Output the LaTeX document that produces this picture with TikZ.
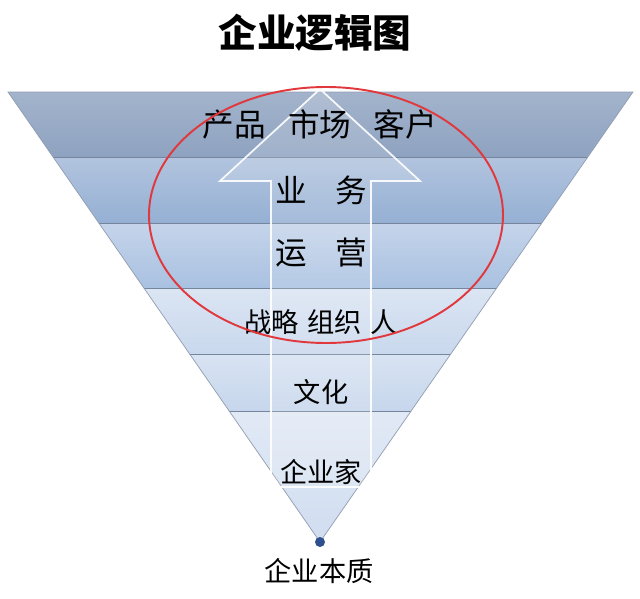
\documentclass[tikz,border=0pt]{standalone}
\usepackage{fontspec}
\setmainfont{Noto Sans CJK SC}
\usepackage{xcolor}
\usepackage{tikz}
\definecolor{layat}{HTML}{A3B3CB}
\definecolor{layab}{HTML}{8EA3C1}
\definecolor{laybt}{HTML}{B2C4DE}
\definecolor{laybb}{HTML}{95B0D4}
\definecolor{layct}{HTML}{C5D4EA}
\definecolor{laycb}{HTML}{A9C1E1}
\definecolor{laydt}{HTML}{DBE5F3}
\definecolor{laydb}{HTML}{C9D8ED}
\definecolor{layet}{HTML}{D8E3F2}
\definecolor{layeb}{HTML}{C6D6EC}
\definecolor{layft}{HTML}{E1E9F5}
\definecolor{layfb}{HTML}{D0DDF0}
\definecolor{myred}{HTML}{E0383C}
\definecolor{mydot}{HTML}{2F4F8F}
\definecolor{myline}{HTML}{75859C}

\begin{document}
\begin{tikzpicture}[x=0.02cm,y=-0.02cm,
    big/.style={font=\fontsize{18pt}{20pt}\selectfont, text=black},
    small/.style={font=\fontsize{15.5pt}{18pt}\selectfont, text=black}]
    \useasboundingbox (0,0) rectangle (640,599);
    % basics
    \coordinate (tl) at (8,92);
    \coordinate (tr) at (633,92);
    \coordinate (apex) at (320,542);
    \node[font=\fontsize{22pt}{24pt}\selectfont\bfseries] (title) at (315,33) {企业逻辑图};

    % layers
    \begin{scope}
        \clip (tl) -- (tr) -- (apex) -- cycle;
        \foreach \ya/\yb/\ct/\cb in {92/157/layat/layab, 157/223/laybt/laybb, 223/288/layct/laycb,
                                     288/354/laydt/laydb, 354/411/layet/layeb, 411/542/layft/layfb}
            \shade[top color=\ct, bottom color=\cb] (0,\ya) rectangle (640,\yb);
        \foreach \y in {157,223,288,354,411}
            \draw[myline, thin] (0,\y) -- (640,\y);
    \end{scope}
    \draw[myline!80, thin] (tl) -- (tr) -- (apex) -- cycle;

    % arrow
    \draw[white, line width=1pt, draw opacity=0.9, fill=white, fill opacity=0.15, line join=miter]
        (320,89) -- (420,181) -- (371,181) -- (371,487) -- (271,487) -- (271,181) -- (220,181) -- cycle;

    % labels
    \node[big] (market) at (320,124) {产品\hspace{0.7em}市场\hspace{0.7em}客户};
    \node[big] (business) at (321,190) {业\hspace{0.9em}务};
    \node[big] (operation) at (321,253) {运\hspace{0.9em}营};
    \node[small] (strategy) at (321,322) {战略\hspace{0.3em}组织\hspace{0.3em}人};
    \node[small] (culture) at (321,392) {文化};
    \node[small] (founder) at (321,472) {企业家};
    \fill[mydot] (apex) circle (5);
    \node[small] (essence) at (319,571) {企业本质};

    % circle
    \draw[myred, line width=1.1pt] (326,215) ellipse [x radius=177, y radius=128];
\end{tikzpicture}
\end{document}
